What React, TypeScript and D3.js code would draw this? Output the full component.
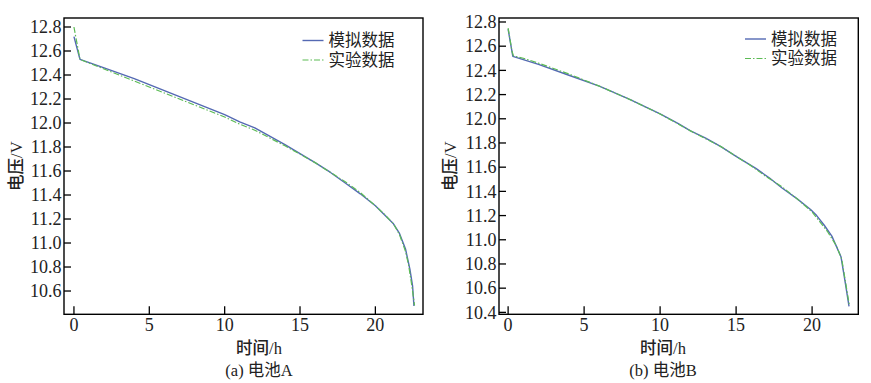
import React from "react";
import * as d3 from "d3";

// ---- data ----
const tA_sim = [0, 0.4, 2, 4, 6, 8, 10, 11, 12, 14, 16, 17, 18, 19, 20, 20.6, 21.2, 21.6, 22.0, 22.3, 22.47, 22.56];
const vA_sim = [12.72, 12.53, 12.46, 12.37, 12.27, 12.17, 12.07, 12.01, 11.96, 11.82, 11.67, 11.59, 11.5, 11.41, 11.31, 11.235, 11.16, 11.08, 10.95, 10.775, 10.64, 10.475];
const tA_exp = [0, 0.4, 2, 4, 6, 8, 10, 11, 12, 14, 16, 17, 18, 19, 20, 20.6, 21.2, 21.6, 22.0, 22.2, 22.4, 22.6];
const vA_exp = [12.8, 12.53, 12.45, 12.35, 12.25, 12.15, 12.05, 11.99, 11.94, 11.81, 11.67, 11.59, 11.51, 11.42, 11.31, 11.24, 11.16, 11.07, 10.93, 10.82, 10.66, 10.48];

const tB_sim = [0, 0.31, 2, 4, 6, 8, 10, 11.2, 12, 13, 14, 15, 16.3, 17.2, 18, 19, 19.9, 20.3, 20.8, 21.3, 21.9, 22.15, 22.43];
const vB_sim = [12.74, 12.516, 12.45, 12.36, 12.27, 12.16, 12.04, 11.96, 11.9, 11.84, 11.77, 11.69, 11.59, 11.51, 11.43, 11.34, 11.25, 11.2, 11.12, 11.03, 10.86, 10.67, 10.45];
const tB_exp = [0, 0.25, 0.35, 1, 2, 4, 6, 8, 10, 12, 14, 16, 17, 18, 19, 20, 21, 21.6, 21.95, 22.2, 22.45];
const vB_exp = [12.75, 12.56, 12.52, 12.5, 12.46, 12.37, 12.27, 12.16, 12.04, 11.9, 11.77, 11.61, 11.52, 11.44, 11.34, 11.23, 11.07, 10.95, 10.84, 10.65, 10.46];

const xTicks = [0, 5, 10, 15, 20];
const yTicksA = [10.6, 10.8, 11.0, 11.2, 11.4, 11.6, 11.8, 12.0, 12.2, 12.4, 12.6, 12.8];
const yTicksB = [10.4, 10.6, 10.8, 11.0, 11.2, 11.4, 11.6, 11.8, 12.0, 12.2, 12.4, 12.6, 12.8];
const seriesNames = ["模拟数据", "实验数据"];

const BLUE = "#5469b3";
const GREEN = "#5cbb55";
const SERIF = "'Liberation Serif', 'Times New Roman', serif";
const CJK = "'Noto Sans CJK SC', sans-serif";

type PanelProps = {
  x0: number; x1: number; y0: number; y1: number;
  xDom: [number, number]; yDom: [number, number];
  yTicks: number[];
  sim: [number[], number[]]; exp: [number[], number[]];
  legendX: number; legendY: number;
  ylabelX: number; titleX: number;
  tag: string; letter: string;
};

function Panel(p: PanelProps) {
  const x = d3.scaleLinear().domain(p.xDom).range([p.x0, p.x1]);
  const y = d3.scaleLinear().domain(p.yDom).range([p.y1, p.y0]);
  const line = d3.line<[number, number]>().x(d => x(d[0])).y(d => y(d[1]));
  const simPts = p.sim[0].map((t, i) => [t, p.sim[1][i]] as [number, number]);
  const expPts = p.exp[0].map((t, i) => [t, p.exp[1][i]] as [number, number]);
  const midY = (p.y0 + p.y1) / 2;
  return (
    <g>
      <path d={line(simPts) || ""} fill="none" stroke={BLUE} strokeWidth={1.4} strokeLinejoin="round" />
      <path d={line(expPts) || ""} fill="none" stroke={GREEN} strokeWidth={1.2} strokeDasharray="6,2,1.5,2" />
      <rect x={p.x0} y={p.y0} width={p.x1 - p.x0} height={p.y1 - p.y0} fill="none" stroke="#000" strokeWidth={1.4} />
      {p.yTicks.map(v => (
        <g key={"y" + v}>
          <line x1={p.x0} x2={p.x0 + 7} y1={y(v)} y2={y(v)} stroke="#000" strokeWidth={1.3} />
          <text x={p.x0 - 2.5} y={y(v)} dy="0.35em" textAnchor="end" fontFamily={SERIF} fontSize={18} fill="#222">
            {v.toFixed(1)}
          </text>
        </g>
      ))}
      {xTicks.map(v => (
        <g key={"x" + v}>
          <line x1={x(v)} x2={x(v)} y1={p.y1} y2={p.y1 - 8} stroke="#000" strokeWidth={1.3} />
          <text x={x(v)} y={331} textAnchor="middle" fontFamily={SERIF} fontSize={18} fill="#222">
            {v}
          </text>
        </g>
      ))}
      <text transform={`translate(${p.ylabelX},${midY}) rotate(-90)`} textAnchor="middle" dy="0.35em" fontSize={16.5} fill="#222" fontWeight={500}>
        <tspan fontFamily={CJK}>电压</tspan>
        <tspan fontFamily={SERIF}>/V</tspan>
      </text>
      <text x={p.titleX} y={354} textAnchor="middle" fontSize={16.5} fill="#222" fontWeight={500}>
        <tspan fontFamily={CJK}>时间</tspan>
        <tspan fontFamily={SERIF}>/h</tspan>
      </text>
      <text x={p.titleX} y={376} textAnchor="middle" fontSize={16.5} fill="#222">
        <tspan fontFamily={SERIF}>{p.tag} </tspan>
        <tspan fontFamily={CJK}>电池</tspan>
        <tspan fontFamily={SERIF}>{p.letter}</tspan>
      </text>
      {seriesNames.map((n, i) => {
        const ly = p.legendY + i * 19.5;
        return (
          <g key={n}>
            <line x1={p.legendX} x2={p.legendX + 21} y1={ly} y2={ly}
              stroke={i === 0 ? BLUE : GREEN} strokeWidth={i === 0 ? 1.4 : 1.2}
              strokeDasharray={i === 0 ? undefined : "6,2,1.5,2"} />
            <text x={p.legendX + 26} y={ly} dy="0.36em" fontFamily={CJK} fontSize={16.5} fill="#222">{n}</text>
          </g>
        );
      })}
    </g>
  );
}

export default function App() {
  return (
    <div style={{ position: "absolute", left: 0, top: 0 }}>
      <svg width={871} height={383} style={{ display: "block", background: "#fff" }}>
        <Panel x0={64} x1={423} y0={18} y1={314.3} xDom={[-0.66, 23.16]} yDom={[10.406, 12.875]}
          yTicks={yTicksA} sim={[tA_sim, vA_sim]} exp={[tA_exp, vA_exp]}
          legendX={302.5} legendY={40.5} ylabelX={16} titleX={259} tag="(a)" letter="A" />
        <Panel x0={499} x1={858.3} y0={18} y1={314.3} xDom={[-0.6, 23.04]} yDom={[10.384, 12.833]}
          yTicks={yTicksB} sim={[tB_sim, vB_sim]} exp={[tB_exp, vB_exp]}
          legendX={745} legendY={39} ylabelX={450} titleX={663} tag="(b)" letter="B" />
      </svg>
    </div>
  );
}
